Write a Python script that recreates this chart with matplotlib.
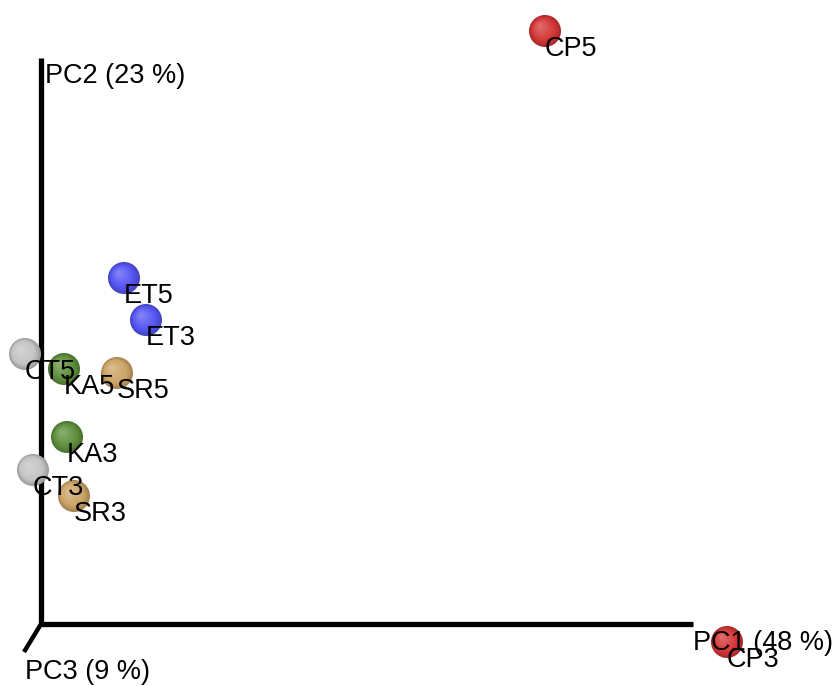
import numpy as np
import matplotlib
matplotlib.use("Agg")
from matplotlib import pyplot as plt

plt.rcParams['font.family'] = ['Liberation Sans', 'DejaVu Sans']

# projected sample positions (screen space, y downwards)
samples = ['CP5', 'ET5', 'ET3', 'CT5', 'KA5', 'SR5', 'KA3', 'CT3', 'SR3', 'CP3']
xs = [545, 124, 146, 25, 64, 117, 67, 33, 74, 727]
ys = [31, 278, 320, 354, 369, 373, 437, 470, 496, 642]
groups = ['CP', 'ET', 'ET', 'CT', 'KA', 'SR', 'KA', 'CT', 'SR', 'CP']
group_colors = {'CP': '#d43535', 'ET': '#5555f2', 'CT': '#c4c4c4',
                'KA': '#5e8f3c', 'SR': '#cca466'}

axis_labels = ['PC1 (48 %)', 'PC2 (23 %)', 'PC3 (9 %)']

fig = plt.figure(figsize=(8.34, 6.86), dpi=100)
ax = fig.add_axes([0, 0, 1, 1])
ax.set_xlim(0, 834)
ax.set_ylim(686, 0)
ax.axis('off')

# axes of the 3d frame
origin = (41, 624)
ax.plot([origin[0], origin[0]], [origin[1], 58], color='black', lw=3.8,
        solid_capstyle='butt', zorder=1)
ax.plot([origin[0] - 2, 693], [origin[1], origin[1]], color='black', lw=3.8,
        solid_capstyle='butt', zorder=1)
ax.plot([origin[0], 24], [origin[1], 652], color='black', lw=3.2,
        solid_capstyle='butt', zorder=1)


def lighten(c, f):
    rgb = np.array(matplotlib.colors.to_rgb(c))
    return tuple(rgb + (1 - rgb) * f)


def darken(c, f):
    rgb = np.array(matplotlib.colors.to_rgb(c))
    return tuple(rgb * (1 - f))


# shaded spheres
r = 16
for x, y, g in zip(xs, ys, groups):
    c = group_colors[g]
    n = 14
    for k in range(n):
        t = k / (n - 1)
        rad = r * (1 - 0.85 * t)
        off = 0.3 * r * t
        if t < 0.3:
            col = darken(c, 0.2 * (1 - t / 0.3))
        else:
            col = lighten(c, 0.25 * (t - 0.3) / 0.7)
        circ = plt.Circle((x - off, y - off), rad, color=col, lw=0, zorder=2)
        ax.add_patch(circ)

# sample labels
for x, y, name in zip(xs, ys, samples):
    ax.text(x, y + 18, name, fontsize=19.5, ha='left', va='center',
            color='black', zorder=3)

ax.text(693, 643, axis_labels[0], fontsize=19.5, ha='left', va='center', zorder=3)
ax.text(45, 76, axis_labels[1], fontsize=19.5, ha='left', va='center', zorder=3)
ax.text(25, 672, axis_labels[2], fontsize=19.5, ha='left', va='center', zorder=3)

fig.savefig('out.png', dpi=100)
plt.close(fig)
